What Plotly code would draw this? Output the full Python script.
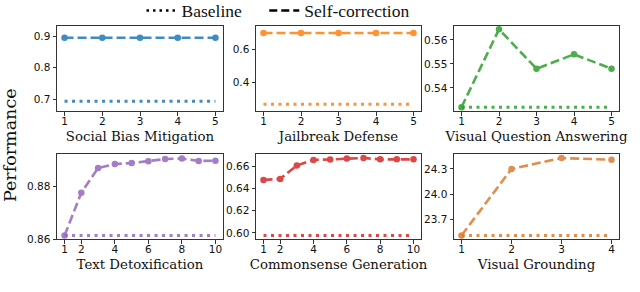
import plotly.graph_objects as go

# ---- data ----
titles = ["Social Bias Mitigation", "Jailbreak Defense", "Visual Question Answering",
          "Text Detoxification", "Commonsense Generation", "Visual Grounding"]
colors = ["#1f77b4", "#ff7f0e", "#2ca02c", "#9467bd", "#d62728", "#dc7a2c"]

x_sbm = [1, 2, 3, 4, 5]
self_sbm = [0.896, 0.896, 0.896, 0.896, 0.896]
base_sbm = 0.693

x_jb = [1, 2, 3, 4, 5]
self_jb = [0.703, 0.703, 0.703, 0.703, 0.703]
base_jb = 0.264

x_vqa = [1, 2, 3, 4, 5]
self_vqa = [0.532, 0.5644, 0.548, 0.554, 0.548]
base_vqa = 0.532

x_td = [1, 2, 3, 4, 5, 6, 7, 8, 9, 10]
self_td = [0.8614, 0.8775, 0.8868, 0.8883, 0.8887, 0.8894, 0.8902, 0.8904, 0.8895, 0.8896]
base_td = 0.8614

x_cg = [1, 2, 3, 4, 5, 6, 7, 8, 9, 10]
self_cg = [0.6478, 0.6487, 0.6608, 0.6658, 0.6662, 0.6670, 0.6675, 0.6663, 0.6663, 0.6663]
base_cg = 0.5978

x_vg = [1, 2, 3, 4]
self_vg = [23.51, 24.30, 24.43, 24.41]
base_vg = 23.51

xs = [x_sbm, x_jb, x_vqa, x_td, x_cg, x_vg]
selfs = [self_sbm, self_jb, self_vqa, self_td, self_cg, self_vg]
bases = [base_sbm, base_jb, base_vqa, base_td, base_cg, base_vg]

xticks = [[1, 2, 3, 4, 5], [1, 2, 3, 4, 5], [1, 2, 3, 4, 5],
          [1, 2, 4, 6, 8, 10], [1, 2, 4, 6, 8, 10], [1, 2, 3, 4]]
yticks = [[0.7, 0.8, 0.9], [0.4, 0.6], [0.54, 0.55, 0.56],
          [0.86, 0.88], [0.60, 0.62, 0.64, 0.66], [23.7, 24.0, 24.3]]
yfmt = [".1f", ".1f", ".2f", ".2f", ".2f", ".1f"]
yranges = [[0.662, 0.935], [0.222, 0.749], [0.5304, 0.5660],
           [0.8600, 0.8921], [0.5943, 0.6711], [23.464, 24.478]]

W, H = 640, 292
cols_px = [(57, 223), (256, 421), (454, 619)]
rows_px = [(25.5, 111), (154, 239.3)]

fig = go.Figure()

DASH = "9px,4px"
DOT = "3px,4.5px"

for i in range(6):
    r, c = divmod(i, 3)
    n = i + 1
    xa = "x" if n == 1 else f"x{n}"
    ya = "y" if n == 1 else f"y{n}"
    fig.add_trace(go.Scatter(
        x=xs[i], y=[bases[i]] * len(xs[i]), xaxis=xa, yaxis=ya, mode="lines",
        line=dict(color=colors[i], width=3, dash=DOT), opacity=0.85, showlegend=False))
    fig.add_trace(go.Scatter(
        x=xs[i], y=selfs[i], xaxis=xa, yaxis=ya, mode="lines+markers",
        line=dict(color=colors[i], width=2.6, dash=DASH),
        marker=dict(size=6.5, color=colors[i]), opacity=0.85, showlegend=False))

    x0, x1 = cols_px[c]
    y0, y1 = rows_px[r]
    xr = [min(xs[i]) - 0.05 * (max(xs[i]) - min(xs[i])), max(xs[i]) + 0.05 * (max(xs[i]) - min(xs[i]))]
    axcommon = dict(showline=True, mirror=True, linecolor="#333", linewidth=1,
                    ticks="outside", ticklen=3.5, tickwidth=0.8, tickcolor="#333",
                    showgrid=False, zeroline=False,
                    tickfont=dict(family="DejaVu Sans", size=10.5, color="#111"))
    fig.update_layout(**{
        ("xaxis" if n == 1 else f"xaxis{n}"): dict(
            domain=[x0 / W, x1 / W], anchor=ya, range=xr,
            tickvals=xticks[i], ticklabelstandoff=-3,
            title=dict(text=titles[i], font=dict(family="DejaVu Serif", size=13.3, color="#111"),
                       standoff=5),
            **axcommon),
        ("yaxis" if n == 1 else f"yaxis{n}"): dict(
            domain=[1 - y1 / H, 1 - y0 / H], anchor=xa, range=yranges[i],
            tickvals=yticks[i], tickformat=yfmt[i],
            **axcommon),
    })

# legend entries
fig.add_trace(go.Scatter(x=[None], y=[None], mode="lines", name="Baseline\u00a0\u00a0\u00a0\u00a0",
                         line=dict(color="black", width=2.5, dash="2.5px,4px")))
fig.add_trace(go.Scatter(x=[None], y=[None], mode="lines", name="Self-correction",
                         line=dict(color="black", width=2.5, dash="8px,4px")))

fig.add_annotation(text="Performance", xref="paper", yref="paper",
                   x=10 / W, y=1 - 145 / H, xanchor="center", yanchor="middle",
                   textangle=-90, showarrow=False,
                   font=dict(family="DejaVu Serif", size=17.5, color="#111"))

fig.update_layout(
    width=W, height=H, margin=dict(l=0, r=0, t=0, b=0, autoexpand=False),
    paper_bgcolor="white", plot_bgcolor="white",
    legend=dict(orientation="h", x=278 / W, xanchor="center", y=1.025, yanchor="top",
                font=dict(family="Liberation Serif", size=17.5, color="#111"),
                itemwidth=30, bgcolor="rgba(0,0,0,0)"),
)

fig.write_html("out.html", config={"displayModeBar": False},
               post_script="document.body.style.margin='0px';")
